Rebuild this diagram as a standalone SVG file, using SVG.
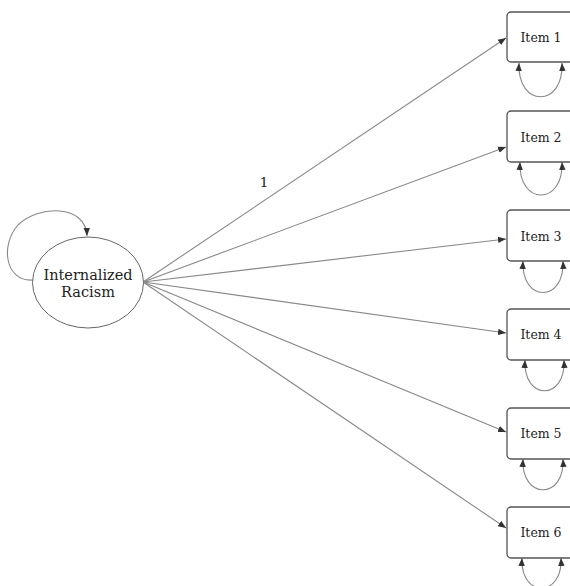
<svg xmlns="http://www.w3.org/2000/svg" width="570" height="586" viewBox="0 0 570 586">
<defs>
<style>
.node rect{fill:#fff;stroke:#555;stroke-width:1.3}
.node ellipse{fill:#fff;stroke:#666;stroke-width:1}
text{font-family:"DejaVu Serif","Liberation Serif",serif;fill:#222;text-anchor:middle;dominant-baseline:central}
.item{font-size:12.5px}
.lat{font-size:14.5px}
.conn path,.conn line{fill:none;stroke:#888;stroke-width:1.1}
</style>
<marker id="ah" viewBox="0 0 10 10" refX="10" refY="5" markerWidth="8" markerHeight="8" markerUnits="userSpaceOnUse" orient="auto-start-reverse">
<path d="M0,1 L10,5 L0,9 Z" fill="#333"/>
</marker>
</defs>
<rect width="570" height="586" fill="#fff"/>
<g class="conn">
<path d="M33,280 C5,282 0,245 18,225 C38,205 86,204 87,236" marker-end="url(#ah)"/>
<line x1="143" y1="282" x2="506" y2="38" marker-end="url(#ah)"/>
<line x1="143" y1="282" x2="506" y2="147" marker-end="url(#ah)"/>
<line x1="143" y1="282" x2="506" y2="239" marker-end="url(#ah)"/>
<line x1="143" y1="282" x2="506" y2="333" marker-end="url(#ah)"/>
<line x1="143" y1="282" x2="506" y2="432" marker-end="url(#ah)"/>
<line x1="143" y1="282" x2="506" y2="528" marker-end="url(#ah)"/>
<path d="M519,63 C517,108 564,108 562,63" marker-start="url(#ah)" marker-end="url(#ah)"/>
<path d="M520,162 C518,206 564,206 562,162" marker-start="url(#ah)" marker-end="url(#ah)"/>
<path d="M523,261 C521,303 565,303 563,261" marker-start="url(#ah)" marker-end="url(#ah)"/>
<path d="M525,360 C523,401 566,401 564,360" marker-start="url(#ah)" marker-end="url(#ah)"/>
<path d="M523,459 C521,500 565,500 563,459" marker-start="url(#ah)" marker-end="url(#ah)"/>
<path d="M522,558 C520,598 563,598 561,558" marker-start="url(#ah)" marker-end="url(#ah)"/>
</g>
<g id="label1"><text x="264" y="182" font-size="13.5">1</text></g>
<g id="latent" class="node">
<ellipse cx="88" cy="282.5" rx="55.5" ry="45.5"/>
<text class="lat" x="88" y="275">Internalized</text>
<text class="lat" x="88" y="292">Racism</text>
</g>
<g id="item1" class="node"><rect x="507" y="12" width="75" height="50" rx="4"/><text class="item" x="541" y="37">Item 1</text></g>
<g id="item2" class="node"><rect x="507" y="111" width="75" height="51" rx="4"/><text class="item" x="541" y="137">Item 2</text></g>
<g id="item3" class="node"><rect x="507" y="210" width="75" height="51" rx="4"/><text class="item" x="541" y="236">Item 3</text></g>
<g id="item4" class="node"><rect x="507" y="309" width="75" height="51" rx="4"/><text class="item" x="541" y="334">Item 4</text></g>
<g id="item5" class="node"><rect x="507" y="408" width="75" height="51" rx="4"/><text class="item" x="541" y="433">Item 5</text></g>
<g id="item6" class="node"><rect x="507" y="507" width="75" height="51" rx="4"/><text class="item" x="541" y="532">Item 6</text></g>
</svg>
